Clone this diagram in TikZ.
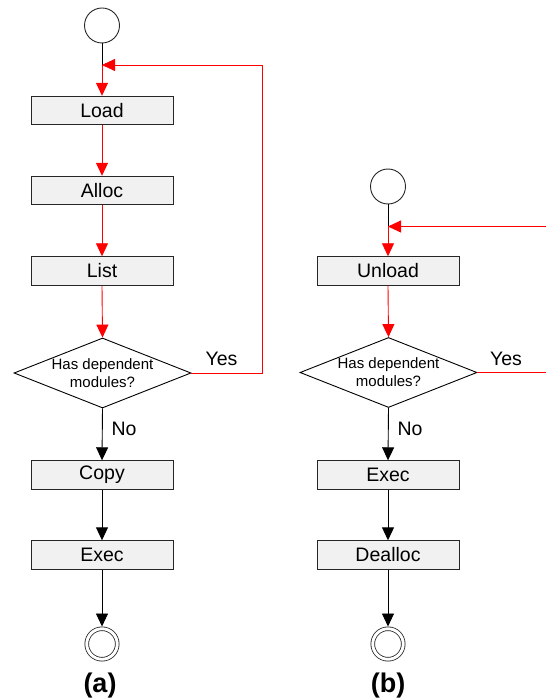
\documentclass[tikz,border=0pt]{standalone}
\usepackage{fontspec}
\setmainfont{Liberation Sans}
\usetikzlibrary{arrows.meta,shapes.geometric}

\definecolor{boxfill}{HTML}{F1F1F1}
\definecolor{loopred}{HTML}{FF0000}

\tikzset{
  stepbox/.style={draw=black!85, fill=boxfill, line width=0.9pt,
    minimum width=142pt, minimum height=28.5pt, inner sep=0pt,
    font=\fontsize{19.5}{23}\selectfont},
  startnode/.style={draw=black!85, circle, line width=0.9pt,
    minimum size=35pt, inner sep=0pt},
  endnode/.style={draw=black!85, circle, line width=0.8pt, double=white,
    double distance=2.9pt, minimum size=30.5pt, inner sep=0pt, outer sep=2.25pt},
  decision/.style={draw=black, diamond, line width=0.9pt, inner sep=0pt,
    minimum width=177pt, minimum height=70pt},
  decisiontext/.style={align=center, font=\fontsize{15}{18}\selectfont, inner sep=0pt},
  branch/.style={font=\fontsize{19.5}{23}\selectfont, inner sep=0pt},
  caption/.style={font=\fontsize{27}{30}\selectfont\bfseries, inner sep=0pt},
  flow/.style={line width=0.9pt, draw=black,
    -{Triangle[length=13pt,width=12pt]}},
  plain/.style={line width=0.9pt, draw=black},
  redflow/.style={line width=0.9pt, draw=loopred,
    -{Triangle[length=13pt,width=12pt,fill=loopred]}},
  redline/.style={line width=0.9pt, draw=loopred},
}

\begin{document}
\begin{tikzpicture}[x=1pt,y=-1pt]
  \useasboundingbox (0,0) rectangle (546,700);

  % ---------- (a) loading ----------
  \node[startnode] (sa) at (102,25.5) {};
  \coordinate (ja) at (102,65);
  \node[stepbox] (load)  at (102,110.5) {Load};
  \node[stepbox] (alloc) at (102,190.5) {Alloc};
  \node[stepbox] (list)  at (102,271)   {List};
  \node[decision] (da) at (102.5,373) {};
  \node[decisiontext] at (da.center) {Has dependent\\modules?};
  \node[stepbox] (copy)  at (102,475)   {Copy};
  \node[stepbox] (execa) at (102,555)   {Exec};
  \node[endnode] (ea) at (102,644) {};
  \coordinate (ra) at (262,373);
  \coordinate (rb) at (262,65);

  \draw[plain] (sa.south) -- (ja);
  \draw[redflow] (ja) -- (load.north);
  \draw[redflow] (load.south) -- (alloc.north);
  \draw[redflow] (alloc.south) -- (list.north);
  \draw[redflow] (list.south) -- (da.north);
  \draw[redflow] (da.east) -- (ra) -- (rb) -- (ja);
  \draw[flow] (da.south) -- (copy.north);
  \draw[flow] (copy.south) -- (execa.north);
  \draw[flow] (execa.south) -- (ea.north);

  \node[branch] at (221.5,359) {Yes};
  \node[branch] at (124,428.5) {No};
  \node[caption] at (100,686) {(a)};

  % ---------- (b) unloading ----------
  \node[startnode] (sb) at (388,186.5) {};
  \coordinate (jb) at (388,226.5);
  \coordinate (rc) at (546,226.5);
  \node[stepbox] (unload) at (388,271) {Unload};
  \node[decision] (db) at (388.5,372.5) {};
  \node[decisiontext] at (db.center) {Has dependent\\modules?};
  \node[stepbox] (execb)   at (388,475) {Exec};
  \node[stepbox] (dealloc) at (388,555) {Dealloc};
  \node[endnode] (eb) at (388,644) {};
  \coordinate (rd) at (546,372.5);

  \draw[plain] (sb.south) -- (jb);
  \draw[redflow] (rc) -- (jb);
  \draw[redflow] (jb) -- (unload.north);
  \draw[redflow] (unload.south) -- (db.north);
  \draw[redline] (db.east) -- (rd);
  \draw[flow] (db.south) -- (execb.north);
  \draw[flow] (execb.south) -- (dealloc.north);
  \draw[flow] (dealloc.south) -- (eb.north);

  \node[branch] at (506,359) {Yes};
  \node[branch] at (410,428.5) {No};
  \node[caption] at (388,686) {(b)};
\end{tikzpicture}
\end{document}
